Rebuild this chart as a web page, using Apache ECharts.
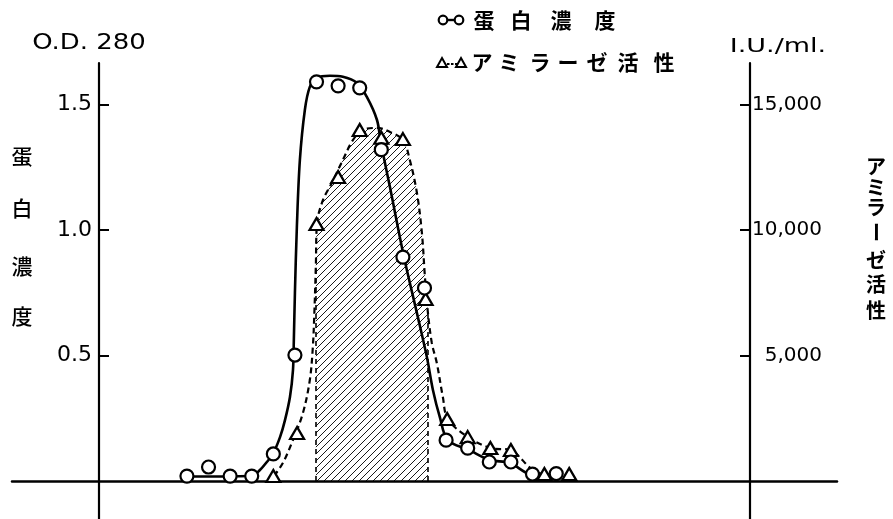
<!DOCTYPE html>
<html><head><meta charset="utf-8">
<script src="https://cdn.jsdelivr.net/npm/echarts@6/dist/echarts.min.js"></script>
<style>html,body{margin:0;padding:0;background:#fff}#c{width:893px;height:519px}</style>
</head><body><div id="c"></div>
<script>
// ---- data (fraction number, value) ----
const proteinFractions = [1, 2, 3, 4, 5, 6, 7, 8, 9, 10, 11, 12, 13, 14, 15, 16, 17, 18.1];
const proteinOD        = [0.02, 0.056, 0.02, 0.02, 0.108, 0.502, 1.59, 1.574, 1.566, 1.32, 0.892, 0.769, 0.163, 0.131, 0.076, 0.076, 0.028, 0.03];
const amylaseFractions = [5, 6.1, 7, 8, 9, 10, 11, 12.05, 13.05, 14, 15.05, 16, 17.55, 18.7];
const amylaseIU        = [200, 1912, 10240, 12110, 13980, 13670, 13620, 7250, 2470, 1750, 1315, 1235, 280, 280];
// hand-drawn smooth curves
const proteinCurveF = [1, 4, 4.38, 4.7, 4.98, 5.31, 5.54, 5.77, 5.91, 5.95, 6.0, 6.09, 6.23, 6.46, 6.69, 7.02, 7.62, 8.22, 8.87, 9.33, 9.8, 9.98, 10.4, 11.05, 11.65, 12.11, 12.39, 12.71, 13.08, 14.06, 15.03, 15.95, 16.88, 18.08];
const proteinCurveV = [0.018, 0.02, 0.044, 0.076, 0.108, 0.175, 0.243, 0.335, 0.442, 0.562, 0.749, 1.012, 1.279, 1.478, 1.57, 1.606, 1.614, 1.61, 1.586, 1.53, 1.438, 1.347, 1.171, 0.892, 0.669, 0.494, 0.363, 0.255, 0.163, 0.124, 0.084, 0.072, 0.028, 0.02];
const amylaseCurveF = [5.03, 5.44, 5.91, 6.37, 6.69, 6.83, 6.9, 6.97, 7.02, 7.3, 7.71, 8.22, 8.69, 9.15, 9.8, 10.4, 11.0, 11.32, 11.65, 11.88, 12.02, 12.16, 12.34, 12.57, 12.85, 13.08, 14.01, 15.07, 15.95, 17.02, 17.57, 18.7];
const amylaseCurveV = [200, 717, 1633, 2709, 4024, 5339, 6700, 8600, 10240, 11195, 11873, 12789, 13586, 13984, 14064, 13904, 13586, 12789, 11474, 9880, 8127, 6693, 5498, 4701, 3347, 2470, 1753, 1315, 1235, 438, 279, 279];
const hatchRange = [6.97, 12.16];
const leftTicks = [0.5, 1.0, 1.5];
const rightTicks = [5000, 10000, 15000];
const leftTitle = '蛋白濃度';
const rightTitle = 'アミラーゼ活性';

const zip = (a, b) => a.map((x, i) => [x, b[i]]);
const proteinPts = zip(proteinFractions, proteinOD);
const amylasePts = zip(amylaseFractions, amylaseIU);
const proteinCurve = zip(proteinCurveF, proteinCurveV);
const amylaseCurve = zip(amylaseCurveF, amylaseCurveV);
const hatchData = amylaseCurve.filter(p => p[0] >= hatchRange[0] - 1e-9 && p[0] <= hatchRange[1] + 1e-9);

function hatchPattern() {
  const s = 7, c = document.createElement('canvas');
  c.width = s; c.height = s;
  const g = c.getContext('2d');
  g.strokeStyle = '#000'; g.lineWidth = 0.9;
  g.beginPath();
  g.moveTo(0, s); g.lineTo(s, 0);
  g.moveTo(-1, 1); g.lineTo(1, -1);
  g.moveTo(s - 1, s + 1); g.lineTo(s + 1, s - 1);
  g.stroke();
  return c;
}

const FONT = '"DejaVu Sans", sans-serif';
const CJK = '"Noto Sans CJK JP", sans-serif';
const txt = (text, x, y, font, extra) => Object.assign({
  type: 'text', silent: true, x, y,
  style: { text, x: 0, y: 0, font, fill: '#000', textAlign: 'center', textVerticalAlign: 'middle', align: 'center', verticalAlign: 'middle' }
}, extra || {});

const graphics = [];
graphics.push(txt('O.D. 280', 89, 43, '22px ' + FONT, { scaleX: 1.18 }));
graphics.push(txt('I.U./ml.', 778, 47, '20px ' + FONT, { scaleX: 1.35 }));
const lty = [156, 208, 266, 316];
leftTitle.split('').forEach((ch, i) => graphics.push(txt(ch, 22, lty[i], '500 21px ' + CJK)));
const rty = [166, 187, 207, 232, 260, 284, 310];
rightTitle.split('').forEach((ch, i) => {
  const el = txt(ch, 876, rty[i], 'bold 20px ' + CJK);
  if (ch === 'ー') el.rotation = -Math.PI / 2;
  graphics.push(el);
});
// legend
const l1x = [484, 521, 561, 605];
leftTitle.split('').forEach((ch, i) => graphics.push(txt(ch, l1x[i], 20, 'bold 21px ' + CJK)));
const l2x = [482, 509, 540, 568, 597, 628, 664];
rightTitle.split('').forEach((ch, i) => graphics.push(txt(ch, l2x[i], 62, 'bold 21px ' + CJK)));
graphics.push({ type: 'line', silent: true, shape: { x1: 443, y1: 20, x2: 459, y2: 20 }, style: { stroke: '#000', lineWidth: 2.4 } });
graphics.push({ type: 'circle', silent: true, shape: { cx: 443, cy: 20, r: 4.3 }, style: { fill: '#fff', stroke: '#000', lineWidth: 2.2 } });
graphics.push({ type: 'circle', silent: true, shape: { cx: 459, cy: 20, r: 4.3 }, style: { fill: '#fff', stroke: '#000', lineWidth: 2.2 } });
graphics.push({ type: 'line', silent: true, shape: { x1: 447, y1: 64, x2: 457, y2: 64 }, style: { stroke: '#000', lineWidth: 2, lineDash: [2.5, 1.5] } });
graphics.push({ type: 'polygon', silent: true, shape: { points: [[442, 58], [447, 67], [437, 67]] }, style: { fill: '#fff', stroke: '#000', lineWidth: 2 } });
graphics.push({ type: 'polygon', silent: true, shape: { points: [[461, 58], [466, 67], [456, 67]] }, style: { fill: '#fff', stroke: '#000', lineWidth: 2 } });

const chart = echarts.init(document.getElementById('c'), null, { renderer: 'canvas' });
const axisCommon = {
  type: 'value', splitLine: { show: false },
  axisLine: { show: true, onZero: false, lineStyle: { color: '#000', width: 2.2 } },
  axisTick: { show: true, inside: true, length: 10, lineStyle: { color: '#000', width: 2 } }
};
chart.setOption({
  animation: false,
  backgroundColor: '#fff',
  grid: { left: 12, right: 56, top: 63, bottom: 0, containLabel: false },
  xAxis: {
    type: 'value', min: -7.1, max: 31.1,
    axisLine: { show: true, onZero: true, lineStyle: { color: '#000', width: 2.5 } },
    axisTick: { show: false }, axisLabel: { show: false }, splitLine: { show: false }
  },
  yAxis: [
    Object.assign({}, axisCommon, {
      position: 'left', offset: -87, min: -0.151, max: 1.665,
      axisTick: Object.assign({}, axisCommon.axisTick, { customValues: leftTicks }),
      axisLabel: { customValues: leftTicks, margin: 7, color: '#000', fontFamily: FONT, fontSize: 22, formatter: v => v.toFixed(1) }
    }),
    Object.assign({}, axisCommon, {
      position: 'right', offset: -87, min: -1510, max: 16650,
      axisTick: Object.assign({}, axisCommon.axisTick, { customValues: rightTicks }),
      axisLabel: { customValues: rightTicks, margin: 72, align: 'right', color: '#000', fontFamily: FONT, fontSize: 20, formatter: v => v.toLocaleString('en-US') }
    })
  ],
  graphic: graphics,
  series: [
    { name: 'hatch', type: 'line', yAxisIndex: 1, data: hatchData, smooth: 0.35, showSymbol: false, silent: true, z: 1,
      lineStyle: { width: 0, opacity: 0 }, areaStyle: { color: { image: hatchPattern(), repeat: 'repeat' }, opacity: 1 },
      markLine: { silent: true, symbol: 'none', label: { show: false },
        lineStyle: { color: '#000', type: [5, 4], width: 1.6 },
        data: [
          [{ coord: [hatchData[0][0], 0] }, { coord: hatchData[0] }],
          [{ coord: [hatchData[hatchData.length - 1][0], 0] }, { coord: hatchData[hatchData.length - 1] }]
        ] } },
    { name: 'amylaseCurve', type: 'line', yAxisIndex: 1, data: amylaseCurve, smooth: 0.35, showSymbol: false, silent: true, z: 2,
      lineStyle: { color: '#000', width: 2.2, type: [6, 4] } },
    { name: 'proteinCurve', type: 'line', yAxisIndex: 0, data: proteinCurve, smooth: 0.35, showSymbol: false, silent: true, z: 3,
      lineStyle: { color: '#000', width: 2.6 } },
    { name: 'アミラーゼ活性', type: 'scatter', yAxisIndex: 1, data: amylasePts, symbol: 'triangle', symbolSize: [14, 12], z: 4,
      itemStyle: { color: '#fff', borderColor: '#000', borderWidth: 2.2, opacity: 1 } },
    { name: '蛋白濃度', type: 'scatter', yAxisIndex: 0, data: proteinPts, symbol: 'circle', symbolSize: 13, z: 5,
      itemStyle: { color: '#fff', borderColor: '#000', borderWidth: 2.2, opacity: 1 } }
  ]
});
</script></body></html>
